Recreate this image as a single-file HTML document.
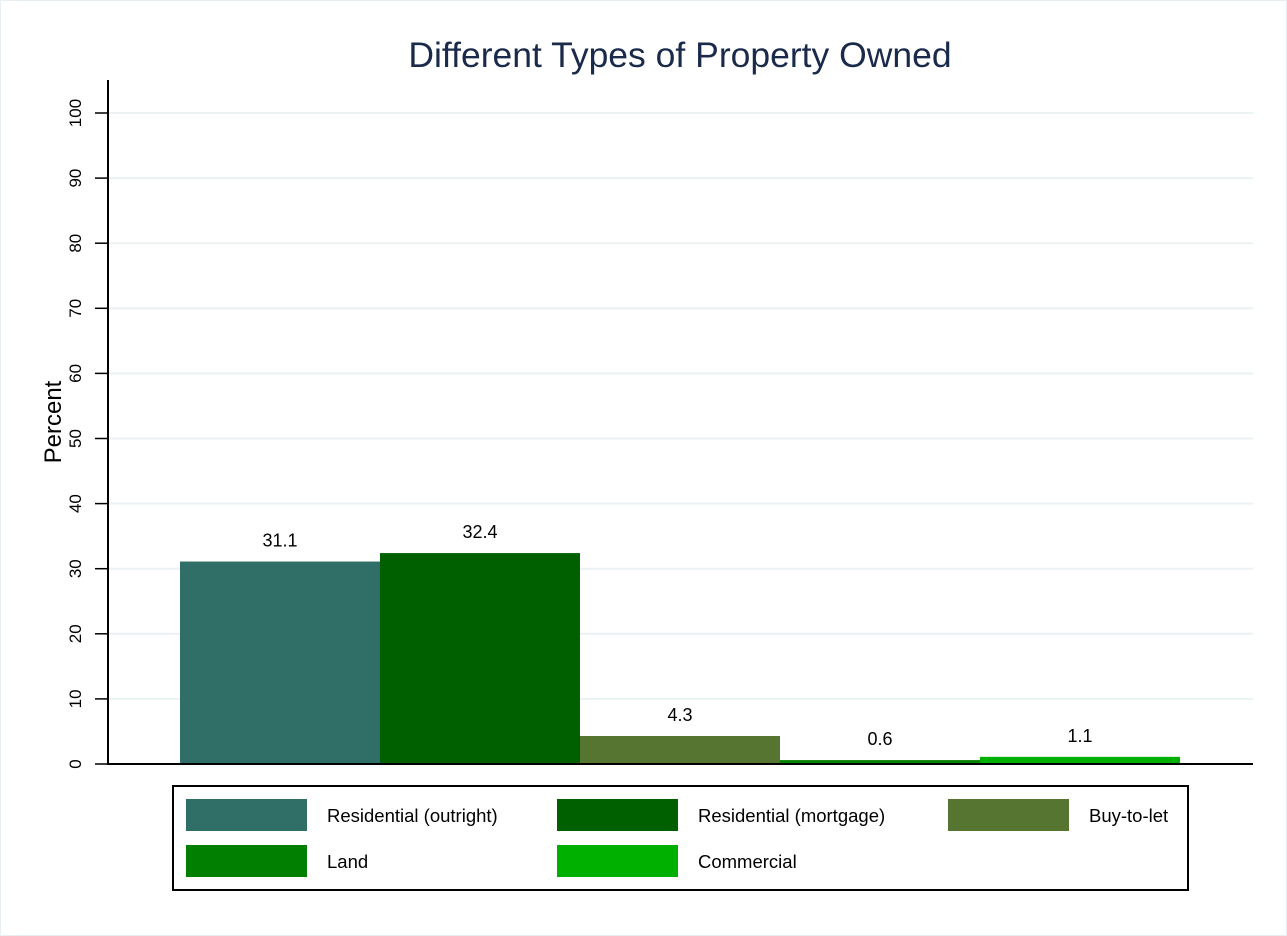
<!DOCTYPE html>
<html><head><meta charset="utf-8"><style>
html,body{margin:0;padding:0;background:#fff;}
svg{display:block;font-family:"Liberation Sans",Arial,sans-serif;}
</style></head><body>
<svg id="chart" width="1287" height="936" viewBox="0 0 1287 936">
<rect x="0.5" y="0.5" width="1286" height="935" fill="#fff" stroke="#e8eef2"/>
<text x="680" y="67" text-anchor="middle" font-size="35.5" fill="#1a2a4a">Different Types of Property Owned</text>
<text transform="translate(61,422) rotate(-90)" text-anchor="middle" font-size="24" fill="#000">Percent</text>
<g id="grid"></g><g id="bars"></g><g id="yaxis"></g>
<line x1="107" y1="764" x2="1253" y2="764" stroke="#000" stroke-width="2"/>
<line x1="108" y1="80" x2="108" y2="765" stroke="#000" stroke-width="2"/>
<rect x="173" y="786" width="1015" height="104" fill="#fff" stroke="#000" stroke-width="2"/>
<g id="legend"></g>
</svg>
<script>
const categories=["Residential (outright)","Residential (mortgage)","Buy-to-let","Land","Commercial"];
const values=[31.1,32.4,4.3,0.6,1.1];
const labels=["31.1","32.4","4.3","0.6","1.1"];
const yTicks=[0,10,20,30,40,50,60,70,80,90,100];
const colors=["#306e68","#006000","#557530","#007f00","#00b000"];
const NS="http://www.w3.org/2000/svg";
const y=v=>764-v*6.51;
const xb=i=>180+i*200;
function mk(t,a,p){const e=document.createElementNS(NS,t);for(const k in a)e.setAttribute(k,a[k]);p.appendChild(e);return e;}
const grid=document.getElementById('grid'),ya=document.getElementById('yaxis'),bars=document.getElementById('bars'),leg=document.getElementById('legend');
yTicks.forEach(t=>{
 if(t>0){const g=mk('line',{x1:109,x2:1253,y1:y(t),y2:y(t),stroke:'#eaf2f3','stroke-width':2},grid);
 
 }
 const tk=mk('line',{x1:95,x2:108,y1:y(t),y2:y(t),stroke:'#000','stroke-width':1.5},ya);
 
 
 const tx=mk('text',{transform:`translate(81,${y(t)}) rotate(-90)`,'text-anchor':'middle','font-size':17},ya);
 tx.textContent=t;
 
 
});
values.forEach((v,i)=>{
 const r=mk('rect',{x:xb(i),y:y(v),width:200,height:764-y(v),fill:colors[i]},bars);
 
 
 const l=mk('text',{x:xb(i)+100,y:y(v)-15,'text-anchor':'middle','font-size':18},bars);
 l.textContent=labels[i];
 
 
});
const lx=[186,557,948],ly=[799,845];
categories.forEach((c,i)=>{
 const cx=lx[i%3],cy=ly[Math.floor(i/3)];
 const s=mk('rect',{x:cx,y:cy,width:121,height:32,fill:colors[i]},leg);
 
 
 const t=mk('text',{x:cx+141,y:cy+23,'font-size':18.5},leg);
 t.textContent=c;
 
 
});
</script>
</body></html>
